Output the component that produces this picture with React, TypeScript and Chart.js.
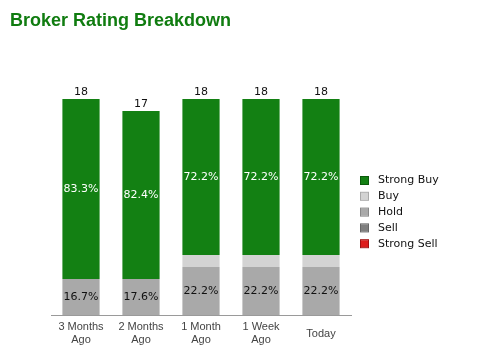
import React, { useEffect, useRef } from "react";
import { Chart, registerables } from "chart.js";

Chart.register(...registerables);

const categories: string[][] = [["3 Months", "Ago"], ["2 Months", "Ago"], ["1 Month", "Ago"], ["1 Week", "Ago"], ["Today"]];
const strongBuy = [15, 14, 13, 13, 13];
const buy = [0, 0, 1, 1, 1];
const hold = [3, 3, 4, 4, 4];
const sell = [0, 0, 0, 0, 0];
const strongSell = [0, 0, 0, 0, 0];

const legendNames = ["Strong Buy", "Buy", "Hold", "Sell", "Strong Sell"];
const legendColors = ["#138013", "#d3d3d3", "#a9a9a9", "#7f7f7f", "#dd1c1c"];
const legendBorders = ["#0b5a0b", "#a9a9a9", "#888888", "#666666", "#a01010"];

const labelColor: Record<string, string> = { "Strong Buy": "#ffffff", Hold: "#111111", Buy: "#111111", Sell: "#ffffff", "Strong Sell": "#ffffff" };

const overlay = {
  id: "overlay",
  afterDatasetsDraw(chart: any) {
    const ctx = chart.ctx;
    ctx.save();
    // title
    ctx.font = "bold 18px 'Liberation Sans', Arial, sans-serif";
    ctx.fillStyle = "#107c10";
    ctx.textAlign = "left";
    ctx.textBaseline = "alphabetic";
    ctx.fillText("Broker Rating Breakdown", 10, 26);

    const n = chart.data.labels.length;
    const totals: number[] = [];
    for (let i = 0; i < n; i++) {
      let t = 0;
      chart.data.datasets.forEach((ds: any) => (t += ds.data[i]));
      totals.push(t);
    }
    ctx.font = "11px 'DejaVu Sans', sans-serif";
    ctx.textAlign = "center";
    ctx.textBaseline = "middle";
    chart.data.datasets.forEach((ds: any, di: number) => {
      const meta = chart.getDatasetMeta(di);
      meta.data.forEach((el: any, i: number) => {
        const v = ds.data[i];
        if (!v || v / totals[i] < 0.1) return;
        const pct = ((v / totals[i]) * 100).toFixed(1) + "%";
        ctx.fillStyle = labelColor[ds.label] || "#111";
        ctx.fillText(pct, el.x, (el.y + el.base) / 2);
      });
    });
    // totals
    const top = chart.getDatasetMeta(chart.data.datasets.length - 1);
    const yScale = chart.scales.y;
    ctx.fillStyle = "#111111";
    ctx.textBaseline = "alphabetic";
    top.data.forEach((el: any, i: number) => {
      const y = yScale.getPixelForValue(totals[i]);
      ctx.fillText(String(totals[i]), el.x, y - 4);
    });
    // legend
    ctx.textAlign = "left";
    ctx.textBaseline = "middle";
    legendNames.forEach((name, i) => {
      const cy = 180.5 + i * 15.8;
      ctx.fillStyle = legendColors[i];
      ctx.fillRect(361, cy - 3.5, 7, 7);
      ctx.strokeStyle = legendBorders[i];
      ctx.lineWidth = 1;
      ctx.strokeRect(360.5, cy - 4, 8, 8);
      ctx.fillStyle = "#111111";
      ctx.fillText(name, 378, cy);
    });
    ctx.restore();
  },
};

export default function App() {
  const ref = useRef<HTMLCanvasElement>(null);
  useEffect(() => {
    if (!ref.current) return;
    const mk = (label: string, data: number[], color: string) => ({
      label,
      data,
      backgroundColor: color,
      borderWidth: 0,
      categoryPercentage: 1,
      barPercentage: 0.62,
    });
    const chart = new Chart(ref.current, {
      type: "bar",
      data: {
        labels: categories,
        datasets: [
          mk("Strong Sell", strongSell, legendColors[4]),
          mk("Sell", sell, legendColors[3]),
          mk("Hold", hold, legendColors[2]),
          mk("Buy", buy, legendColors[1]),
          mk("Strong Buy", strongBuy, legendColors[0]),
        ],
      },
      options: {
        animation: false,
        responsive: false,
        events: [],
        layout: { padding: { top: 75, left: 51, right: 139, bottom: 0 } },
        plugins: { legend: { display: false }, title: { display: false }, tooltip: { enabled: false } },
        scales: {
          x: {
            stacked: true,
            grid: { display: false, drawTicks: false },
            border: { display: true, color: "#9a9a9a", width: 1 },
            ticks: {
              color: "#444444",
              padding: 12,
              crossAlign: "center",
              font: { family: "'Liberation Sans', Arial, sans-serif", size: 11, lineHeight: 1.2 },
              maxRotation: 0,
            },
            afterFit: (s: any) => {
              s.height = 40;
            },
          },
          y: { stacked: true, display: false, min: 0, max: 20 },
        },
      },
      plugins: [overlay],
    });
    return () => chart.destroy();
  }, []);
  return (
    <div style={{ position: "fixed", left: 0, top: 0, width: 490, height: 355, background: "#fff" }}>
      <canvas ref={ref} width={490} height={355} />
    </div>
  );
}
